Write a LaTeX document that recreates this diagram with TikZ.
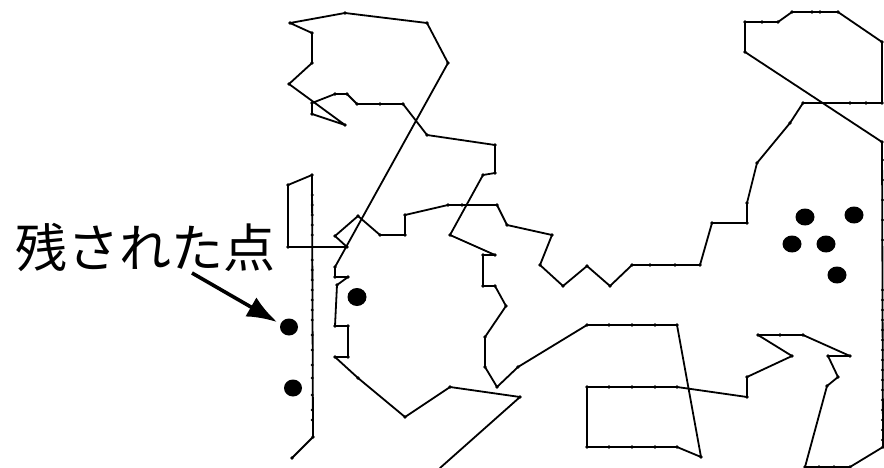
\documentclass[tikz,border=0pt]{standalone}
\usepackage{fontspec}
\newfontfamily\cjk{Noto Sans CJK JP}
\usetikzlibrary{arrows.meta}
\tikzset{
  tour/.style={line width=1.8pt, line join=round, line cap=round},
  city/.style={fill=black},
  remain/.style={fill=black},
  pointer/.style={line width=3.6pt, -{Latex[length=30pt,width=22pt]}},
  labeltext/.style={inner sep=0pt, font=\cjk\fontsize{52}{52}\selectfont}
}
\begin{document}
\begin{tikzpicture}[x=1pt,y=-1pt]
\useasboundingbox (0,0) rectangle (884,468);
\draw[tour] (292,458)--(313,437)--(312,175)--(288,185)--(288,247)--(347,247)--(335,236)--(358,216)--(380,235)--(405,235)--(405,215)--(448,205)--(497,205)--(507,225)--(552,235)--(540,265)--(563,286)--(587,266)--(610,286)--(632,265)--(700,265)--(712,223)--(747,223)--(747,203)--(757,163)--(790,123)--(803,103)--(882,103)--(882,42)--(838,12)--(792,12)--(778,22)--(745,22)--(745,52)--(882,142)--(883,447)--(850,467)--(805,467)--(827,386)--(838,377)--(828,356)--(850,356)--(803,335)--(758,335)--(792,356)--(747,377)--(747,397)--(677,387)--(587,387)--(587,447)--(677,447)--(701,457)--(677,325)--(587,325)--(518,367)--(497,387)--(485,367)--(485,337)--(506,306)--(495,286)--(483,286)--(483,255)--(495,255)--(450,235)--(483,175)--(495,173)--(495,145)--(427,135)--(403,104)--(357,104)--(347,94)--(335,94)--(312,103)--(312,114)--(345,125)--(289,84)--(312,63)--(312,33)--(290,23)--(345,13)--(427,23)--(448,63)--(335,267)--(335,277)--(348,277)--(337,285)--(335,326)--(348,326)--(348,357)--(335,357)--(358,378)--(405,417)--(450,387)--(520,397)--(440,468);
% cities on the tour
\foreach \p in {(292,458),(313,437),(312,175),(288,185),(288,247),(347,247),(335,236),(358,216),(380,235),(405,235),(405,215),(448,205),(497,205),(507,225),(552,235),(540,265),(563,286),(587,266),(610,286),(632,265),(700,265),(712,223),(747,223),(747,203),(757,163),(790,123),(803,103),(882,103),(882,42),(838,12),(792,12),(778,22),(745,22),(745,52),(882,142),(883,447),(850,467),(805,467),(827,386),(838,377),(828,356),(850,356),(803,335),(758,335),(792,356),(747,377),(747,397),(677,387),(587,387),(587,447),(677,447),(701,457),(677,325),(587,325),(518,367),(497,387),(485,367),(485,337),(506,306),(495,286),(483,286),(483,255),(495,255),(450,235),(483,175),(495,173),(495,145),(427,135),(403,104),(357,104),(347,94),(335,94),(312,103),(312,114),(345,125),(289,84),(312,63),(312,33),(290,23),(345,13),(427,23),(448,63),(335,267),(335,277),(348,277),(337,285),(335,326),(348,326),(348,357),(335,357),(358,378),(405,417),(450,387),(520,397),
 (609,325),(632,325),(655,325),(609,387),(632,387),(655,387),(609,447),(632,447),(655,447),(819,467),(834,467),(650,265),(675,265),(762,22),(812,12),(820,12),(850,103),(866,103),(780,335),(380,104),(462,205)}
  \fill[city] \p circle (1.8pt);
\foreach \y in {195,205,215,225,235,260,270,280,290,300,310,320,335,350,365,378,395,410,420}
  \fill[city] (312.2,\y) circle (1.6pt);
\foreach \y in {160,180,200,220,240,290,300,310,320,330,340,350,360,370,380,390,400,410,420,430,440}
  \fill[city] (882.5,\y) circle (1.6pt);
% remaining points
\fill[remain] (289,327) ellipse (9pt and 8.5pt);
\fill[remain] (293,388) ellipse (9pt and 8.5pt);
\fill[remain] (357,297) ellipse (9.5pt and 9pt);
\fill[remain] (805,217) ellipse (9.5pt and 8.5pt);
\fill[remain] (854,215) ellipse (9.5pt and 8.5pt);
\fill[remain] (792,244) ellipse (9.5pt and 8.5pt);
\fill[remain] (826,244) ellipse (9.5pt and 8.5pt);
\fill[remain] (837,275) ellipse (9.5pt and 8.5pt);
% label and arrow
\node[labeltext] (lbl) at (146,248) {残された点};
\coordinate (tip) at (277,322);
\coordinate (tail) at (192,273);
\draw[pointer] (tail) -- (tip);
\end{tikzpicture}
\end{document}
